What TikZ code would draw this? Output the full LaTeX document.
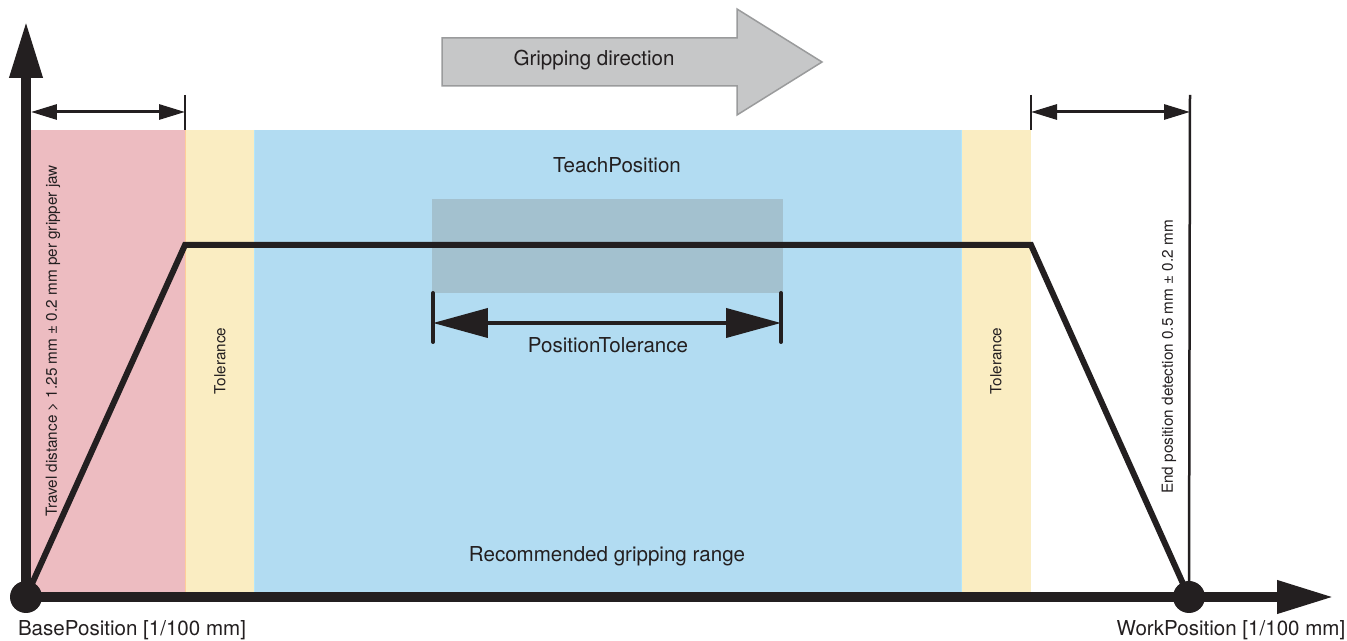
\documentclass[tikz,border=0pt]{standalone}
\usepackage{fontspec}
\setmainfont{TeX Gyre Heros}
\usetikzlibrary{arrows.meta}
\definecolor{ink}{HTML}{231F20}
\definecolor{travelzone}{HTML}{EDBCC1}
\definecolor{tolzone}{HTML}{FAEDC2}
\definecolor{gripzone}{HTML}{B2DCF2}
\definecolor{teachbox}{HTML}{A3C1CF}
\definecolor{dirfill}{HTML}{C6C7C8}
\definecolor{dirline}{HTML}{9A9B9C}

\begin{document}
\begin{tikzpicture}[x=0.02cm, y=-0.02cm, font=\fontsize{11.7}{14}\selectfont, text=ink,
	axis/.style={draw=ink, line width=0.2cm, -{Triangle[length=1.14cm, width=0.62cm]}},
	dim/.style={draw=ink, line width=0.06cm, {Triangle[length=0.52cm, width=0.3cm]}-{Triangle[length=0.52cm, width=0.3cm]}},
	tol/.style={draw=ink, line width=0.08cm, {Triangle[length=1.1cm, width=0.58cm]}-{Triangle[length=1.1cm, width=0.58cm]}},
	tick/.style={draw=ink, line width=0.05cm},
	small/.style={font=\fontsize{8.7}{10}\selectfont, rotate=90}]
	\useasboundingbox (0,0) rectangle (1347,641);

	% zones
	\fill[travelzone] (31,130) rectangle (185,597);
	\fill[tolzone] (185,130) rectangle (254,597);
	\fill[gripzone] (254,130) rectangle (961,597);
	\fill[tolzone] (961,130) rectangle (1031,597);
	\draw[orange!40, line width=0.02cm] (185,130) -- (185,592);
	\draw[cyan!30, line width=0.02cm] (254,130) -- (254,592) (961,130) -- (961,592);
	\fill[teachbox] (432,199) rectangle (783,293);

	% gripping direction
	\draw[dirline, fill=dirfill, line width=0.03cm] (442,38) -- (737,38) -- (737,9) -- (822,62)
		-- (737,115) -- (737,86) -- (442,86) -- cycle;
	\node (dir) at (594,60) {Gripping direction};

	% positions
	\coordinate (base) at (26,597);
	\coordinate (work) at (1189,597);
	\coordinate (up) at (26,21);
	\coordinate (right) at (1334,597);
	\coordinate (tl) at (185,245);
	\coordinate (tr) at (1031,245);

	\draw[ink, line width=0.12cm] (base) -- (tl) -- (tr) -- (work);
	\draw[axis] (base) -- (up);
	\draw[axis] (base) -- (right);

	% dimensions
	\coordinate (lt) at (185,95);
	\coordinate (rt1) at (1031,95);
	\coordinate (rt2) at (1190,95);
	\draw[tick] (lt) -- (185,130);
	\draw[tick] (rt1) -- (1031,130);
	\draw[tick] (rt2) -- (work);
	\draw[dim] (31,112) -- (185,112);
	\draw[dim] (1031,112) -- (1190,112);

	\coordinate (pl) at (433,293);
	\coordinate (pr) at (781,293);
	\draw[tick, line width=0.08cm, line cap=round] (pl) -- (433,342);
	\draw[tick, line width=0.08cm, line cap=round] (pr) -- (781,342);
	\draw[tol] (433,323) -- (781,323);

	\fill[ink] (base) circle (16);
	\fill[ink] (work) circle (16);

	% labels
	\node (teach) at (617,165) {TeachPosition};
	\node (ptol) at (608,345) {PositionTolerance};
	\node (range) at (607,556) {Recommended gripping range};
	\node (baselbl) at (132,630) {BasePosition [1/100 mm]};
	\node (worklbl) at (1231,630) {WorkPosition [1/100 mm]};
	\node[small] (tolL) at (220,361) {Tolerance};
	\node[small] (tolR) at (996,361) {Tolerance};
	\node[small] (travel) at (53,341) {Travel distance > 1.25 mm ± 0.2 mm per gripper jaw};
	\node[small] (endpos) at (1169,357) {End position detection 0.5 mm ± 0.2 mm};
\end{tikzpicture}
\end{document}
